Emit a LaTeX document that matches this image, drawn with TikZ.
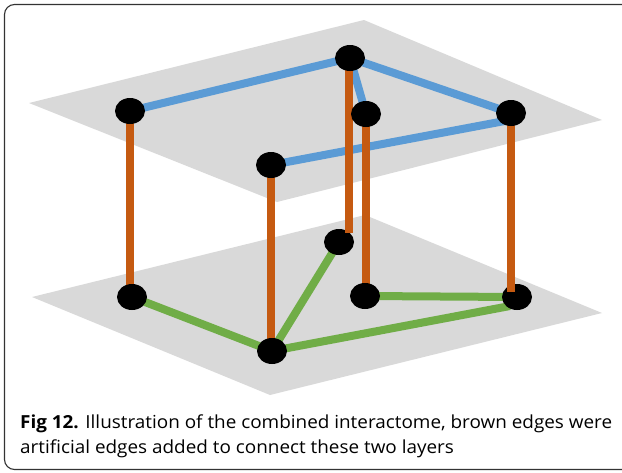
\documentclass[tikz,border=0pt]{standalone}
\usepackage{fontspec}
\newfontfamily\capfont[FakeStretch=1.05]{Open Sans}
\usetikzlibrary{shapes.geometric}
\definecolor{plane}{HTML}{D9D9D9}
\definecolor{lorange}{HTML}{C55A11}
\definecolor{lblue}{HTML}{5B9BD5}
\definecolor{lgreen}{HTML}{70AD47}
\pgfdeclarelayer{bg}
\pgfdeclarelayer{bnodes}
\pgfdeclarelayer{fedges}
\pgfdeclarelayer{tnodes}
\pgfsetlayers{bg,main,bnodes,fedges,tnodes}
\tikzset{
  vert/.style={ellipse, fill=black, minimum width=30pt, minimum height=26pt, inner sep=0pt},
  inter/.style={draw=lorange, line width=8.5pt},
  topedge/.style={draw=lblue, line width=8pt},
  botedge/.style={draw=lgreen, line width=8pt},
  layer/.style={fill=plane},
  frame/.style={draw=black!80, line width=1.1pt, rounded corners=10pt},
  captxt/.style={anchor=base west, inner sep=0pt, font=\capfont\fontsize{18}{21}\selectfont}
}
\begin{document}
\begin{tikzpicture}[x=1pt,y=-1pt]
\useasboundingbox (0,0) rectangle (622,472);
% planes
\begin{pgfonlayer}{bg}
\path[layer] (29,103) -- (364,20) -- (602,120) -- (277,202) -- cycle;
\path[layer] (32,297) -- (365,215) -- (602,313) -- (270,395) -- cycle;
\end{pgfonlayer}
% frame
\draw[frame] (4.5,4.5) rectangle (640,469.5);
% top nodes
\begin{pgfonlayer}{tnodes}
\node[vert] (A) at (130,111) {};
\node[vert] (B) at (350,58) {};
\node[vert] (C) at (366,114) {};
\node[vert] (D) at (511,113) {};
\node[vert] (E) at (271,165) {};
\end{pgfonlayer}
% bottom nodes
\begin{pgfonlayer}{bnodes}
\node[vert] (a) at (132,297) {};
\node[vert] (b) at (339,242) {};
\node[vert] (c) at (365,296) {};
\node[vert] (d) at (517,297) {};
\node[vert] (e) at (272,351) {};
\end{pgfonlayer}
\coordinate (bb) at (349,233);
\coordinate (dd) at (511,292);
\coordinate (Din) at (510,120);
\coordinate (din) at (510,306);
% blue edges
\draw[topedge] (A.center) -- (B.center);
\draw[topedge] (B.center) -- (D.center);
\draw[topedge] (B.center) -- (C.center);
\draw[topedge] (E.center) -- (Din);
% green edges
\draw[botedge] (a.center) -- (e.center);
\draw[botedge] (e.center) -- (b.center);
\draw[botedge] (e.center) -- (din);
\draw[botedge] (c.center) -- (d.center);
% orange inter-layer edges
\draw[inter] (A.center) -- (A.center |- a.center);
\draw[inter] (E.center) -- (E.center |- e.center);
\draw[inter] (C.center) -- (C.center |- c.center);
\begin{pgfonlayer}{fedges}
\draw[inter] ([xshift=-1pt]B.center) -- (bb);
\draw[inter] (D.center) -- (dd);
\end{pgfonlayer}
% caption
\node[captxt] (cap1) at (20,428) {{\bfseries Fig 12.} Illustration of the combined interactome, brown edges were};
\node[captxt] (cap2) at (20,453.5) {artificial edges added to connect these two layers};
\end{tikzpicture}
\end{document}
